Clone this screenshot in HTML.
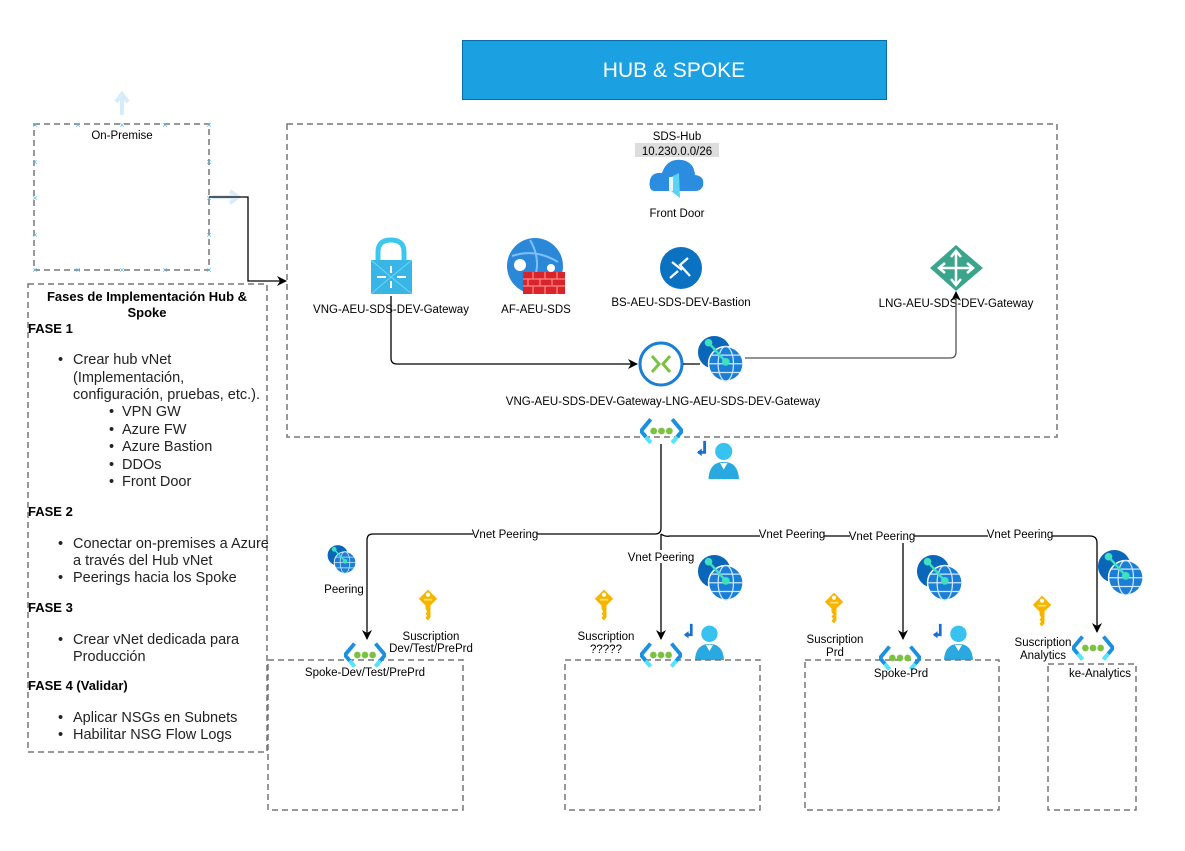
<!DOCTYPE html>
<html><head><meta charset="utf-8"><style>
html,body{margin:0;padding:0;background:#fff;width:1185px;height:851px;overflow:hidden}
svg{display:block;font-family:"Liberation Sans",sans-serif}
.t{font-size:11.5px;fill:#000;text-anchor:middle}
.f{font-size:14.5px;fill:#222;font-family:"Liberation Sans",sans-serif}
.b{font-size:13px;font-weight:bold;fill:#000;font-family:"Liberation Sans",sans-serif}
.d{fill:none;stroke:#777;stroke-width:1.5;stroke-dasharray:6 4}
</style></head><body>
<svg width="1185" height="851" viewBox="0 0 1185 851">
<defs>
<marker id="ar" markerWidth="10" markerHeight="10" refX="9" refY="5" orient="auto" markerUnits="userSpaceOnUse"><path d="M0,0 L10,5 L0,10 L3,5 z" fill="#000"/></marker>
<symbol id="vnet" viewBox="0 0 44 26">
<path d="M11 1 L1 13 L11 25" fill="none" stroke="#1b8fe0" stroke-width="4"/>
<path d="M33 1 L43 13 L33 25" fill="none" stroke="#1b8fe0" stroke-width="4"/>
<path d="M6 19 L11 25" stroke="#50e6ff" stroke-width="4"/><path d="M38 19 L33 25" stroke="#50e6ff" stroke-width="4"/>
<circle cx="14" cy="13" r="3.5" fill="#7cc242"/><circle cx="22" cy="13" r="3.5" fill="#7cc242"/><circle cx="30" cy="13" r="3.5" fill="#7cc242"/>
</symbol>
<symbol id="globe" viewBox="0 0 50 50">
<circle cx="18" cy="18" r="17" fill="#0a66b8"/>
<circle cx="30" cy="30" r="18" fill="#1b7fd6" stroke="#fff" stroke-width="1.5"/>
<ellipse cx="30" cy="30" rx="8" ry="18" fill="none" stroke="#cfe7ff" stroke-width="1.3"/>
<path d="M12 30 H48 M15 21 H45 M15 39 H45" stroke="#cfe7ff" stroke-width="1.3"/>
<path d="M12 8 L30 28" stroke="#3ee0c0" stroke-width="2.5"/>
<circle cx="12" cy="8" r="4" fill="#3ee0c0"/><circle cx="30" cy="28" r="4" fill="#3ee0c0"/>
</symbol>
<symbol id="key" viewBox="0 0 24 40">
<path d="M12 1 L23 12 L15 20 V34 L12 38 L9 35 L11 32 L9 30 L11 27 L9 24 V20 L1 12 Z" fill="#f7b500"/>
<circle cx="12" cy="7" r="2.5" fill="#fff"/><rect x="7" y="12" width="10" height="2" fill="#ffe27a"/>
</symbol>
<symbol id="user" viewBox="0 0 44 40">
<circle cx="28" cy="11" r="9" fill="#37c2f0"/>
<path d="M12 40 Q13 22 28 22 Q43 22 44 40 Z" fill="#2aa8e0"/>
<path d="M24 23 L28 30 L32 23" fill="#fff"/>
<path d="M8 0 V12 H1" fill="none" stroke="#1b6fd0" stroke-width="3"/><path d="M0 12 L5 8 V16 Z" fill="#1b6fd0"/>
</symbol>
</defs>

<rect x="462.5" y="40.5" width="424" height="59" fill="#1ba1e2" stroke="#0b6aa8"/>
<text x="674" y="77" fill="#fff" font-size="21" text-anchor="middle">HUB &amp; SPOKE</text>

<path d="M122 115 V95 M116 102 L122 94 L128 102" stroke="#d7ecfb" stroke-width="4" fill="none"/>
<rect x="34" y="124" width="175" height="146" class="d"/>
<g fill="#5ab8ee" font-size="9" text-anchor="middle">
<text x="35" y="128">×</text><text x="78" y="128">×</text><text x="122" y="128">×</text><text x="165" y="128">×</text><text x="209" y="128">×</text>
<text x="35" y="273">×</text><text x="78" y="273">×</text><text x="122" y="273">×</text><text x="165" y="273">×</text><text x="209" y="273">×</text>
<text x="35" y="165">×</text><text x="35" y="201">×</text><text x="35" y="238">×</text>
<text x="209" y="165">×</text><text x="209" y="201">×</text><text x="209" y="238">×</text>
</g>
<path d="M212 197 H236 M230 191 L238 197 L230 203" stroke="#d7ecfb" stroke-width="4" fill="none"/>
<text x="122" y="139" class="t">On-Premise</text>
<path d="M209 197 H248 V281 H286" fill="none" stroke="#000" stroke-width="1.3" marker-end="url(#ar)"/>

<rect x="28" y="284" width="239" height="468" class="d"/>
<text x="147" y="301" class="b" text-anchor="middle">Fases de Implementación Hub &amp;</text>
<text x="147" y="317" class="b" text-anchor="middle">Spoke</text>
<text x="28" y="333" class="b">FASE 1</text>
<g class="f">
<text x="58" y="364">•</text><text x="73" y="364">Crear hub vNet</text>
<text x="73" y="382">(Implementación,</text>
<text x="73" y="399">configuración, pruebas, etc.).</text>
<text x="109" y="416">•</text><text x="122" y="416">VPN GW</text>
<text x="109" y="434">•</text><text x="122" y="434">Azure FW</text>
<text x="109" y="451">•</text><text x="122" y="451">Azure Bastion</text>
<text x="109" y="469">•</text><text x="122" y="469">DDOs</text>
<text x="109" y="486">•</text><text x="122" y="486">Front Door</text>
<text x="58" y="548">•</text><text x="73" y="548">Conectar on-premises a Azure</text>
<text x="73" y="565">a través del Hub vNet</text>
<text x="58" y="582">•</text><text x="73" y="582">Peerings hacia los Spoke</text>
<text x="58" y="644">•</text><text x="73" y="644">Crear vNet dedicada para</text>
<text x="73" y="661">Producción</text>
<text x="58" y="722">•</text><text x="73" y="722">Aplicar NSGs en Subnets</text>
<text x="58" y="739">•</text><text x="73" y="739">Habilitar NSG Flow Logs</text>
</g>
<text x="28" y="516" class="b">FASE 2</text>
<text x="28" y="612" class="b">FASE 3</text>
<text x="28" y="690" class="b">FASE 4 (Validar)</text>

<rect x="287" y="124" width="770" height="313" class="d"/>
<text x="677" y="140" class="t">SDS-Hub</text>
<rect x="635" y="143" width="84" height="14" fill="#ddd"/>
<text x="677" y="155" class="t" fill="#333">10.230.0.0/26</text>
<path d="M655 191 Q648 191 650 180 Q652 172 662 173 Q667 158 682 160 Q694 162 695 175 Q705 176 703 186 Q701 191 695 191 Z" fill="#2b8ce0"/>
<path d="M671 177 L679 173 L680 198 L671 191 Z" fill="#5ad3f5"/><rect x="669" y="177" width="4" height="14" fill="#e8f6ff"/>
<text x="677" y="217" class="t">Front Door</text>

<path d="M378 262 V252 Q378 240 391 240 Q404 240 404 252 V262" fill="none" stroke="#3cc8ee" stroke-width="5"/>
<rect x="371" y="260" width="41" height="34" fill="#39b6e6"/>
<path d="M371 260 L391 277 L412 260 M371 294 L391 277 L412 294" fill="none" stroke="#6ad8f8" stroke-width="1"/>
<path d="M377 277 H386 M406 277 H397 M391 266 V273 M391 288 V281" stroke="#fff" stroke-width="2"/>
<text x="391" y="313" class="t">VNG-AEU-SDS-DEV-Gateway</text>

<circle cx="535" cy="266" r="28" fill="#2b88d8"/>
<path d="M512 256 Q535 248 558 262 M530 240 Q545 265 528 292" stroke="#7fc0ff" stroke-width="2" fill="none"/>
<circle cx="520" cy="265" r="6" fill="#fff"/><circle cx="551" cy="268" r="4" fill="#fff"/>
<rect x="523" y="272" width="42" height="22" fill="#d8242a"/>
<path d="M523 279 H565 M523 286 H565 M533 272 V279 M545 272 V279 M557 272 V279 M528 279 V286 M540 279 V286 M552 279 V286 M533 286 V294 M545 286 V294 M557 286 V294" stroke="#ff8a8a" stroke-width="1.2"/>
<text x="536" y="313" class="t">AF-AEU-SDS</text>

<circle cx="681" cy="268" r="21" fill="#0b72c2"/>
<path d="M670 278 L678 271 M688 258 L680 265 L690 276 M672 262 L682 270" stroke="#fff" stroke-width="2.2" fill="none"/>
<text x="681" y="306" class="t">BS-AEU-SDS-DEV-Bastion</text>

<path d="M956 245 L983 268 L956 291 L930 268 Z" fill="#3aa58c"/>
<path d="M956 252 V284 M940 268 H972" stroke="#fff" stroke-width="2.5"/>
<path d="M951 257 L956 251 L961 257 M951 279 L956 285 L961 279 M945 263 L939 268 L945 273 M967 263 L973 268 L967 273" stroke="#fff" stroke-width="2.5" fill="none"/>
<text x="956" y="307" class="t">LNG-AEU-SDS-DEV-Gateway</text>

<path d="M391 296 V358 Q391 364 397 364 H637" fill="none" stroke="#000" stroke-width="1.3" marker-end="url(#ar)"/>
<circle cx="661" cy="364" r="21" fill="#fff" stroke="#1b7fd6" stroke-width="3"/>
<path d="M652 356 L659 364 L652 372 M670 356 L663 364 L670 372" stroke="#7cc242" stroke-width="3" fill="none"/>
<path d="M683 364 H700" stroke="#000" stroke-width="1.2"/>
<use href="#globe" x="697" y="334" width="48" height="50"/>
<path d="M745 358 H950 Q956 358 956 352 V292" fill="none" stroke="#555" stroke-width="1.3" marker-end="url(#ar)"/>
<text x="663" y="405" class="t">VNG-AEU-SDS-DEV-Gateway-LNG-AEU-SDS-DEV-Gateway</text>
<use href="#vnet" x="640" y="418" width="43" height="26"/>
<use href="#user" x="697" y="440" width="42" height="40"/>

<path d="M661 444 V528 Q661 534 655 534 H373 Q367 534 367 540 V639" fill="none" stroke="#000" stroke-width="1.3" marker-end="url(#ar)"/>
<path d="M661 534 V639" fill="none" stroke="#000" stroke-width="1.3" marker-end="url(#ar)"/>
<path d="M661 534 Q665 537 670 536 H1090 Q1097 536 1097 543 V632" fill="none" stroke="#000" stroke-width="1.3" marker-end="url(#ar)"/>
<path d="M903 536 V639" fill="none" stroke="#000" stroke-width="1.3" marker-end="url(#ar)"/>
<g class="t" font-size="11">
<rect x="473" y="528" width="64" height="13" fill="#fff"/><text x="505" y="538">Vnet Peering</text>
<rect x="629" y="550" width="64" height="13" fill="#fff"/><text x="661" y="561">Vnet Peering</text>
<rect x="760" y="528" width="64" height="13" fill="#fff"/><text x="792" y="538">Vnet Peering</text>
<rect x="850" y="530" width="64" height="13" fill="#fff"/><text x="882" y="540">Vnet Peering</text>
<rect x="988" y="528" width="64" height="13" fill="#fff"/><text x="1020" y="538">Vnet Peering</text>
</g>

<use href="#globe" x="327" y="544" width="30" height="31"/>
<text x="344" y="593" class="t">Peering</text>
<use href="#key" x="418" y="588" width="20" height="35"/>
<text x="431" y="640" class="t">Suscription</text><text x="431" y="652" class="t">Dev/Test/PrePrd</text>
<use href="#globe" x="697" y="553" width="48" height="50"/>
<use href="#key" x="594" y="588" width="20" height="35"/>
<text x="606" y="640" class="t">Suscription</text><text x="606" y="653" class="t">?????</text>
<use href="#user" x="684" y="622" width="40" height="40"/>
<use href="#globe" x="916" y="553" width="48" height="50"/>
<use href="#key" x="824" y="591" width="20" height="35"/>
<text x="835" y="643" class="t">Suscription</text><text x="835" y="656" class="t">Prd</text>
<use href="#user" x="933" y="622" width="40" height="40"/>
<use href="#globe" x="1097" y="548" width="48" height="50"/>
<use href="#key" x="1032" y="594" width="20" height="35"/>
<text x="1043" y="646" class="t">Suscription</text><text x="1043" y="659" class="t">Analytics</text>

<rect x="268" y="660" width="195" height="150" class="d"/>
<rect x="565" y="660" width="195" height="150" class="d"/>
<rect x="805" y="660" width="194" height="150" class="d"/>
<rect x="1048" y="664" width="88" height="146" class="d"/>
<use href="#vnet" x="344" y="642" width="42" height="26"/>
<text x="365" y="676" class="t">Spoke-Dev/Test/PrePrd</text>
<use href="#vnet" x="640" y="642" width="42" height="26"/>
<use href="#vnet" x="879" y="645" width="42" height="26"/>
<text x="901" y="677" class="t">Spoke-Prd</text>
<use href="#vnet" x="1072" y="635" width="42" height="26"/>
<text x="1100" y="677" class="t">ke-Analytics</text>
</svg>
</body></html>
